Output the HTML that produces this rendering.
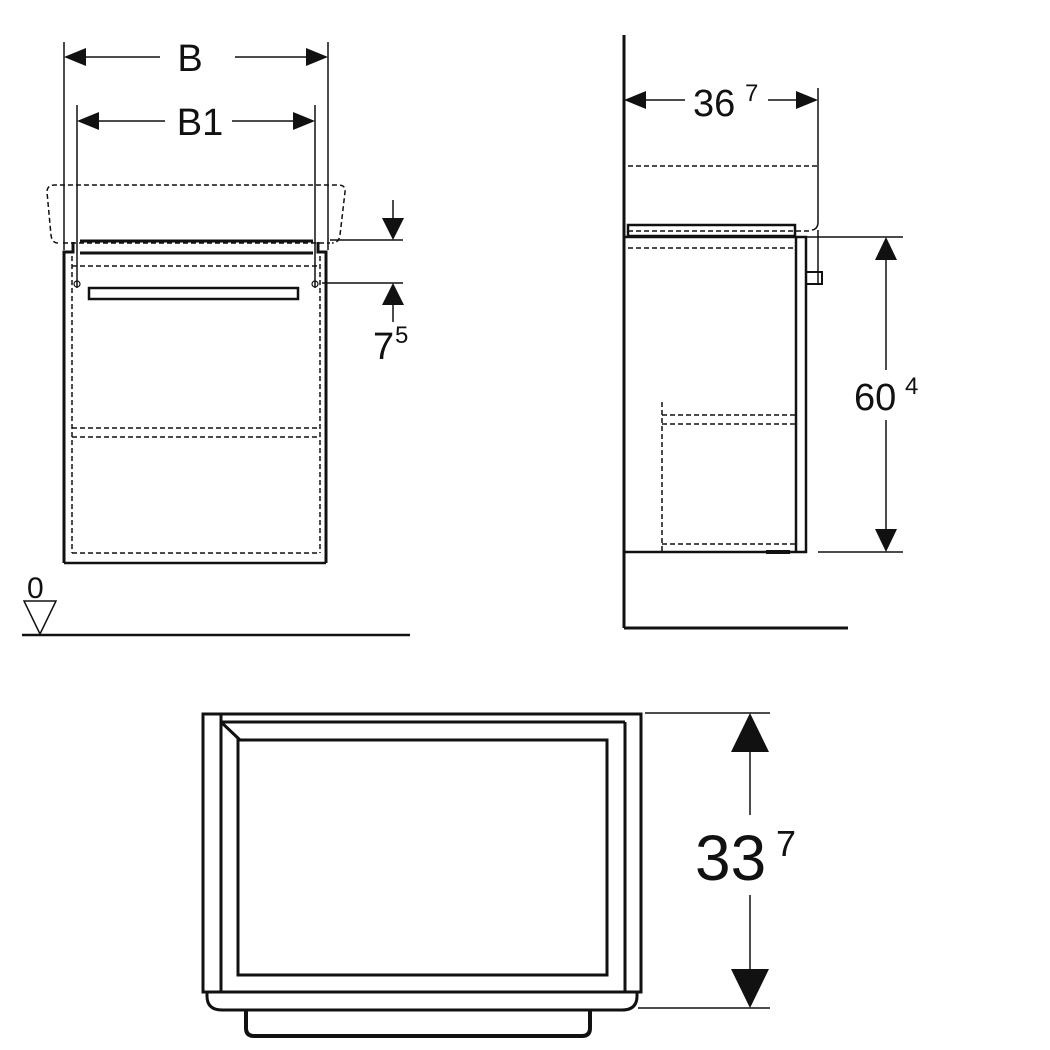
<!DOCTYPE html><html><head><style>body{margin:0;background:#fff}svg{display:block}text{font-family:"Liberation Sans",sans-serif;fill:#111}</style></head><body>
<svg width="1050" height="1050" viewBox="0 0 1050 1050" xmlns="http://www.w3.org/2000/svg" stroke="#111" fill="none">
<!-- FRONT VIEW -->
<g stroke-width="1.5">
<line x1="64" y1="42" x2="64" y2="250"/><line x1="328" y1="42" x2="328" y2="250"/>
<line x1="77" y1="105" x2="77" y2="288"/><line x1="315" y1="105" x2="315" y2="288"/>
<line x1="84" y1="57" x2="160" y2="57"/><line x1="235" y1="57" x2="308" y2="57"/>
<line x1="97" y1="121" x2="165" y2="121"/><line x1="232" y1="121" x2="295" y2="121"/>
</g>
<g fill="#111" stroke="none">
<polygon points="64,57 86,48 86,66"/><polygon points="328,57 306,48 306,66"/>
<polygon points="77,121 99,112 99,130"/><polygon points="315,121 293,112 293,130"/>
<polygon points="393,240 382,218 404,218"/><polygon points="393,283 382,305 404,305"/>
</g>
<text x="190" y="71" font-size="38" text-anchor="middle" stroke="none">B</text>
<text x="200" y="135" font-size="38" text-anchor="middle" stroke="none">B1</text>
<path d="M58,243 Q52,243 51,235 L47,192 Q47,185 55,185 L338,185 Q346,185 345,192 L340,235 Q339,243 332,243" stroke-width="1.5" stroke-dasharray="5,3"/>
<line x1="80" y1="241" x2="313" y2="241" stroke-width="3"/>
<line x1="80" y1="253" x2="313" y2="253" stroke-width="3"/>
<path d="M64,563 L64,252 L73,252 L73,242" stroke-width="3"/>
<path d="M326,563 L326,252 L318,252 L318,242" stroke-width="3"/>
<line x1="64" y1="563" x2="326" y2="563" stroke-width="2.5"/>
<g stroke-width="1.5" stroke-dasharray="5,3">
<line x1="72" y1="256" x2="72" y2="553"/><line x1="320" y1="256" x2="320" y2="553"/>
<line x1="72" y1="266" x2="320" y2="266"/><line x1="72" y1="428" x2="320" y2="428"/>
<line x1="72" y1="437" x2="320" y2="437"/><line x1="72" y1="553" x2="320" y2="553"/>
<line x1="63" y1="243" x2="330" y2="243"/>
</g>
<rect x="89" y="288" width="209" height="11" stroke-width="2.5"/>
<circle cx="77" cy="284" r="3" stroke-width="1.2"/><circle cx="315" cy="284" r="3" stroke-width="1.2"/>
<g stroke-width="1.5">
<line x1="330" y1="240" x2="403" y2="240"/><line x1="322" y1="283" x2="403" y2="283"/>
<line x1="393" y1="200" x2="393" y2="222"/><line x1="393" y1="300" x2="393" y2="322"/>
</g>
<text x="373" y="359" font-size="38" stroke="none">7</text><text x="395" y="343" font-size="24" stroke="none">5</text>
<text x="27" y="598" font-size="30" stroke="none">0</text>
<polygon points="24,601 56,601 40,634" stroke-width="1.5"/>
<line x1="22" y1="635" x2="410" y2="635" stroke-width="2.5"/>
<!-- SIDE VIEW -->
<line x1="624" y1="35" x2="624" y2="628" stroke-width="3"/>
<line x1="624" y1="628" x2="848" y2="628" stroke-width="3"/>
<rect x="628" y="225" width="167" height="11" stroke-width="2.5"/>
<path d="M624,237 L796,237 L796,552 M796,237 L806,237 L806,552 L624,552" stroke-width="2.5"/>
<rect x="806" y="272" width="16" height="12" stroke-width="2"/>
<line x1="766" y1="552" x2="790" y2="552" stroke-width="4"/>
<g stroke-width="1.5" stroke-dasharray="5,3">
<line x1="628" y1="166" x2="818" y2="166"/><line x1="628" y1="231" x2="812" y2="231"/>
<line x1="628" y1="248" x2="795" y2="248"/>
<line x1="662" y1="402" x2="662" y2="552"/>
<line x1="662" y1="415" x2="795" y2="415"/><line x1="662" y1="424" x2="795" y2="424"/><line x1="662" y1="544" x2="795" y2="544"/>
</g>
<path d="M818,88 L818,222 Q818,229 812,230" stroke-width="1.5"/>
<line x1="818" y1="284" x2="818" y2="230" stroke-width="1.5"/>
<g stroke-width="1.5">
<line x1="644" y1="100" x2="685" y2="100"/><line x1="768" y1="100" x2="800" y2="100"/>
<line x1="806" y1="237" x2="903" y2="237"/><line x1="818" y1="552" x2="903" y2="552"/>
<line x1="886" y1="255" x2="886" y2="370"/><line x1="886" y1="420" x2="886" y2="535"/>
</g>
<g fill="#111" stroke="none">
<polygon points="624,100 646,91 646,109"/><polygon points="818,100 796,91 796,109"/>
<polygon points="886,237 875,260 897,260"/><polygon points="886,552 875,529 897,529"/>
</g>
<text x="693" y="116" font-size="38" stroke="none">36</text><text x="745" y="101" font-size="24" stroke="none">7</text>
<text x="854" y="410" font-size="38" stroke="none">60</text><text x="905" y="394" font-size="24" stroke="none">4</text>
<!-- TOP VIEW -->
<rect x="203" y="714" width="438" height="278" stroke-width="3"/>
<line x1="221" y1="714" x2="221" y2="992" stroke-width="3"/>
<line x1="625" y1="722" x2="625" y2="992" stroke-width="3"/>
<line x1="221" y1="722" x2="625" y2="722" stroke-width="3"/>
<line x1="221" y1="722" x2="240" y2="740" stroke-width="3"/>
<rect x="238" y="740" width="369" height="235" stroke-width="3"/>
<path d="M207,992 L207,996 Q207,1010 222,1010 L622,1010 Q637,1010 637,996 L637,992" stroke-width="3"/>
<path d="M246,1010 L246,1028 Q246,1036 254,1036 L582,1036 Q590,1036 590,1028 L590,1010" stroke-width="4"/>
<g stroke-width="1.5">
<line x1="645" y1="713" x2="770" y2="713"/><line x1="638" y1="1008" x2="770" y2="1008"/>
<line x1="750" y1="745" x2="750" y2="815"/><line x1="750" y1="895" x2="750" y2="975"/>
</g>
<g fill="#111" stroke="none">
<polygon points="750,713 731,752 769,752"/><polygon points="750,1008 731,969 769,969"/>
</g>
<text x="695" y="880" font-size="64" stroke="none">33</text><text x="776" y="856" font-size="36" stroke="none">7</text>
</svg></body></html>
